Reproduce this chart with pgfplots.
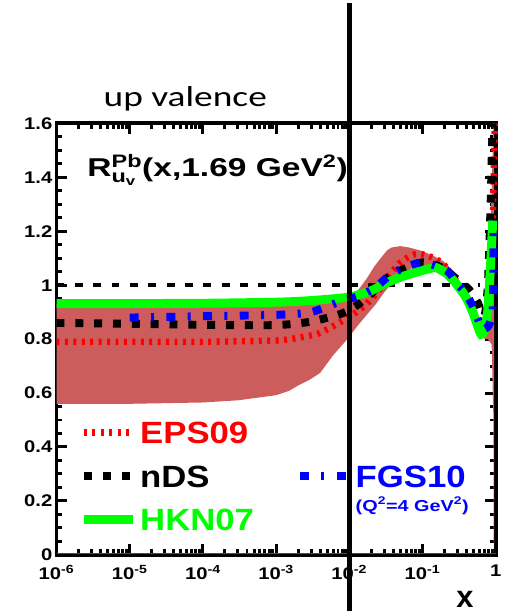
\documentclass[border=0pt]{standalone}
\usepackage{amsmath}
\usepackage{fontspec}
\setmainfont{Liberation Sans}
\newfontfamily\carlito{Carlito}
\usepackage{pgfplots}
\pgfplotsset{compat=1.18}
\definecolor{bandc}{RGB}{205,92,92}
\tikzset{
  eps/.style={color=red, line width=6.5pt, dash pattern=on 3pt off 5.5pt},
  nds/.style={color=black, line width=8pt, dash pattern=on 8pt off 11pt},
  hkn/.style={color=green, line width=9pt},
  fgs/.style={color=blue, line width=8pt, dash pattern=on 9pt off 12.5pt on 3pt off 12.5pt},
}
\begin{document}
\begin{tikzpicture}
\begin{axis}[
  xmode=log,
  scale only axis,
  width=443pt, height=435pt,
  xmin=1e-6, xmax=1,
  ymin=0, ymax=1.6,
  clip=false,
  axis line style={line width=4pt},
  tick style={line width=3pt, black},
  major tick length=11pt, minor tick length=6pt,
  xtick pos=both, ytick pos=both,
  xtick={1e-6,1e-5,1e-4,1e-3,1e-2,1e-1,1},
  xticklabels={10\textsuperscript{-6},10\textsuperscript{-5},10\textsuperscript{-4},10\textsuperscript{-3},10\textsuperscript{-2},10\textsuperscript{-1},1},
  ytick={0,0.2,0.4,0.6,0.8,1,1.2,1.4,1.6},
  yticklabels={0,0.2,0.4,0.6,0.8,1,1.2,1.4,1.6},
  minor y tick num=3,
  tick label style={font=\fontsize{17}{19}\selectfont\bfseries, xscale=1.2},
  xticklabel style={yshift=-7pt},
  xlabel={x},
  xlabel style={at={(axis description cs:0.93,0)}, anchor=base, yshift=-53pt,
    font=\fontsize{31}{34}\selectfont\bfseries},
  legend columns=2,
  legend cell align=left,
  legend image code/.code={\draw[#1] (0pt,0pt) -- (50pt,0pt);},
  legend style={draw=none, fill=none, at={(rel axis cs:0.045,0.318)}, anchor=north west,
    font=\fontsize{31}{34}\selectfont\bfseries,
    row sep=18pt,
    nodes={text height=22pt, text depth=0pt, inner sep=2pt, xscale=1.13},
    /tikz/every even column/.append style={column sep=40pt}},
]
% frame of the picture
\addplot[draw=none, forget plot] coordinates {(1.69e-7,0) (1.41,0)};

% EPS09 uncertainty band
\addplot[fill=bandc, draw=none, forget plot] coordinates {
  (1e-6,0.93) (1e-5,0.93) (1e-4,0.93) (1e-3,0.935) (3e-3,0.942) (0.007,0.95)
  (0.01,0.958) (0.0135,0.985) (0.0173,1.025) (0.022,1.07) (0.0277,1.105)
  (0.033,1.13) (0.038,1.14) (0.05,1.145) (0.065,1.14) (0.09,1.13) (0.113,1.12)
  (0.15,1.105) (0.19,1.09) (0.25,1.06) (0.3,1.03) (0.4,0.97) (0.5,0.92)
  (0.6,0.88) (0.68,0.87) (0.75,0.93) (0.82,1.1) (0.88,1.35) (0.93,1.6)
  (0.95,1.6) (0.95,0.01) (0.94,0.01) (0.93,0.5) (0.88,0.78) (0.78,0.8) (0.7,0.8)
  (0.6,0.83) (0.5,0.87) (0.4,0.92) (0.3,0.98) (0.2,1.03) (0.12,1.065) (0.08,1.07)
  (0.044,1.03) (0.0293,0.97) (0.023,0.93) (0.0173,0.89) (0.013,0.85)
  (0.0094,0.80) (0.006,0.74) (0.004,0.675) (0.0029,0.65) (0.002,0.628)
  (0.0015,0.608) (1e-3,0.592) (3e-4,0.573) (1e-4,0.565) (1e-5,0.56) (1e-6,0.56)
} -- cycle;

% reference lines
\addplot[red, line width=1pt, forget plot] coordinates {(1e-6,0.006) (1,0.006)};
\addplot[black, line width=4pt, dash pattern=on 8pt off 10.5pt, forget plot]
  coordinates {(1e-6,1) (0.6,1)};

% EPS09
\addplot[eps, smooth, tension=0.4, forget plot] coordinates {
  (1e-6,0.79) (1e-5,0.79) (1e-4,0.79) (1e-3,0.795) (0.002,0.805) (0.0037,0.82)
  (0.0065,0.853) (0.011,0.89) (0.0165,0.926) (0.025,0.98) (0.035,1.035)
  (0.05,1.085) (0.07,1.11) (0.09,1.117) (0.13,1.105) (0.19,1.08) (0.3,1.01)
  (0.45,0.92) (0.58,0.855) (0.68,0.845) (0.8,0.93) (0.88,1.1) (0.93,1.35) (0.97,1.6)
};
% nDS
\addplot[nds, smooth, tension=0.4, forget plot] coordinates {
  (1e-6,0.86) (1e-5,0.857) (1e-4,0.853) (1e-3,0.852) (0.003,0.865)
  (0.0079,0.895) (0.0128,0.926) (0.02,0.97) (0.032,1.025) (0.055,1.06)
  (0.1,1.085) (0.15,1.075) (0.2,1.06) (0.3,1.02) (0.43,0.985) (0.57,0.935)
  (0.67,0.885) (0.72,0.9) (0.78,1.0) (0.83,1.2) (0.87,1.4) (0.9,1.6)
};
% HKN07
\addplot[hkn, smooth, tension=0.4, forget plot] coordinates {
  (1e-6,0.932) (1e-5,0.932) (1e-4,0.933) (1e-3,0.937) (0.003,0.943)
  (0.01,0.956) (0.02,0.98) (0.03,1.005) (0.05,1.03) (0.1,1.055) (0.155,1.065)
  (0.22,1.04) (0.285,1.007) (0.39,0.956) (0.49,0.897) (0.57,0.846)
  (0.63,0.818) (0.7,0.83) (0.78,0.908) (0.855,1.09) (0.91,1.24)
};
% FGS10
\addplot[fgs, smooth, tension=0.4, forget plot] coordinates {
  (1e-5,0.88) (1e-4,0.885) (1e-3,0.89) (0.003,0.90) (0.0075,0.94)
  (0.0135,0.96) (0.0223,0.99) (0.0356,1.037) (0.0568,1.066) (0.096,1.085)
  (0.14,1.075) (0.224,1.05) (0.288,1.01) (0.39,0.97) (0.489,0.92) (0.6,0.86)
  (0.667,0.835) (0.8,0.85) (0.9,0.9) (0.925,1.03) (0.93,1.24)
};

% vertical marker line at x = 0.01
\addplot[black, line width=5.5pt, forget plot] coordinates {(0.01,-0.2096) (0.01,2.048)};

% legend
\addlegendimage{eps}\addlegendentry[text=red]{EPS09}
\addlegendimage{empty legend}\addlegendentry{}
\addlegendimage{nds}\addlegendentry[text=black]{nDS}
\addlegendimage{fgs}\addlegendentry[text=blue]{FGS10}
\addlegendimage{hkn}\addlegendentry[text=green]{HKN07}

\node[anchor=base, text=blue, font=\fontsize{16}{18}\selectfont\bfseries, xscale=1.25]
  at (rel axis cs:0.81,0.101) {(Q\textsuperscript{2}=4 GeV\textsuperscript{2})};
\node[anchor=base west, font=\fontsize{26}{30}\selectfont\bfseries, xscale=1.3]
  at (rel axis cs:0.06,0.877) {R$^{\text{Pb}}_{\text{u}_{\text{v}}}$(x,1.69 GeV$^{\text{2}}$)};
\node[anchor=base west, font=\fontsize{29}{32}\selectfont\carlito, xscale=1.3]
  at (rel axis cs:0.097,1.039) {up valence};
\end{axis}
\end{tikzpicture}
\end{document}
